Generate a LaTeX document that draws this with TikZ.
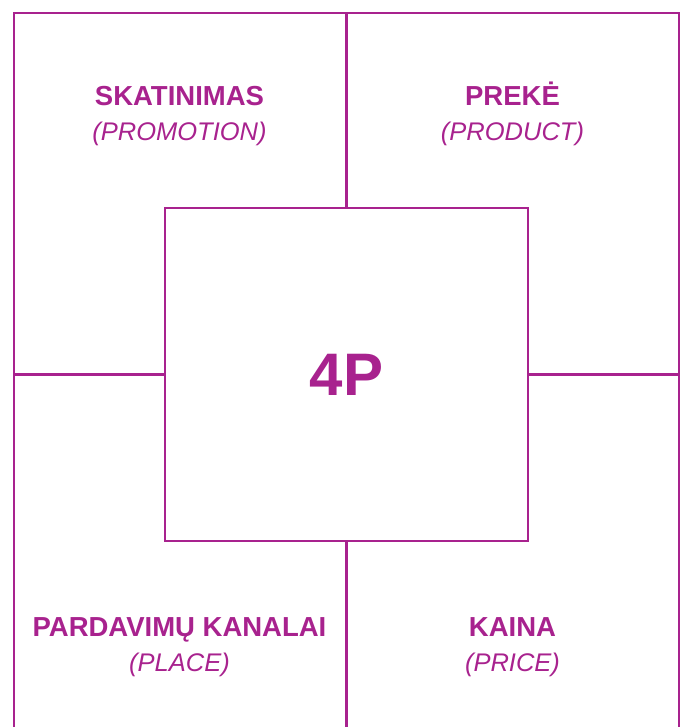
\documentclass[tikz,border=0pt]{standalone}
\usepackage{fontspec}
\setmainfont{Liberation Sans}
\usetikzlibrary{positioning}
\definecolor{plum}{HTML}{A8228E}

\begin{document}
\begin{tikzpicture}[x=1pt,y=-1pt,line width=2.4pt,
  frame/.style={draw=plum,line join=miter},
  title/.style={anchor=base,text=plum,inner sep=0pt,font=\fontsize{27.5}{32}\selectfont\bfseries},
  subtitle/.style={anchor=base,text=plum,inner sep=0pt,font=\fontsize{25.5}{32}\selectfont\itshape}]
\useasboundingbox (0,0) rectangle (684,727);
% centre square and the frame round it
\node[frame,minimum width=363pt,minimum height=333pt,inner sep=0pt,
  text=plum,font=\fontsize{60}{64}\selectfont\bfseries] (core) at (346.5,374.5) {4P};
\coordinate (bl) at (14,728);
\coordinate (tl) at (14,13);
\coordinate (tr) at (679,13);
\coordinate (br) at (679,728);
\draw[frame] (bl) -- (tl) -- (tr) -- (br);
\draw[frame] (core.north) -- (core.north |- tl);
\draw[frame] (core.south) -- (core.south |- bl);
\draw[frame] (core.west) -- (core.west -| tl);
\draw[frame] (core.east) -- (core.east -| tr);
% labels of the four cells
\foreach \id/\xx/\yy/\lt/\en in {
 promo/179.5/106/SKATINIMAS/PROMOTION,
 prod/512.5/106/PREKĖ/PRODUCT,
 place/179.5/636/PARDAVIMŲ KANALAI/PLACE,
 price/512.5/636/KAINA/PRICE} {
 \node[title] (\id) at (\xx,\yy) {\lt};
 \node[subtitle] (\id-en) at (\xx,\yy+35) {(\en)};
}
\end{tikzpicture}
\end{document}
